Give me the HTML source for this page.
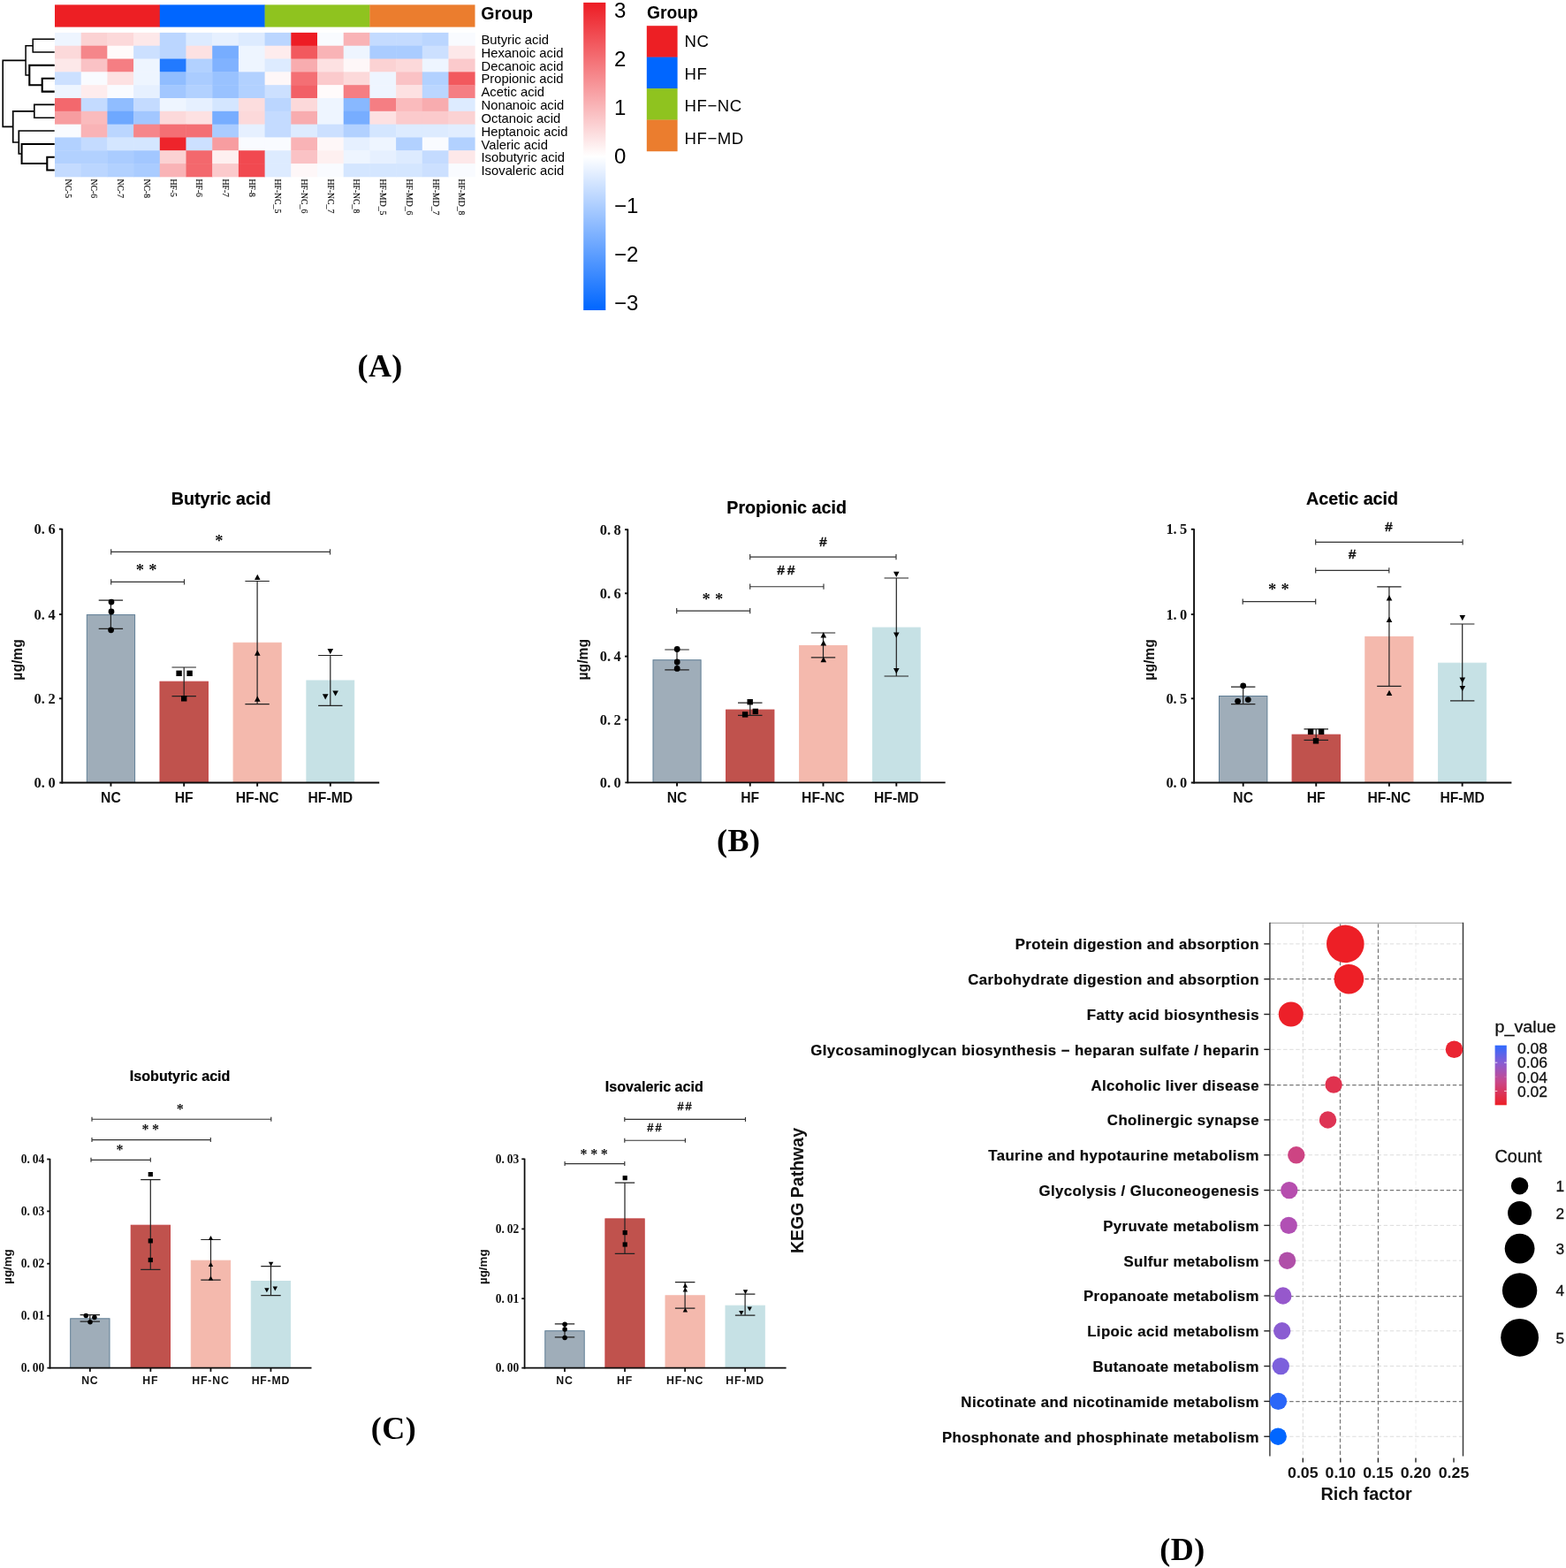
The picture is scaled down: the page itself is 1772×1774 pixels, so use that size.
<!DOCTYPE html>
<html lang="en">
<head>
<meta charset="utf-8">
<title>SCFA heatmap, bar charts and KEGG pathway enrichment</title>
<style>
html,body{margin:0;padding:0;background:#fff;}
body{width:1772px;height:1774px;overflow:hidden;font-family:"Liberation Sans",sans-serif;}
svg{display:block;}
text{white-space:pre;}
</style>
</head>
<body>
<svg role="img" aria-label="Figure with panels A to D" width="1772" height="1774" viewBox="0 0 1772 1774">
<rect x="0" y="0" width="1772" height="1774" fill="#ffffff"/>
<rect x="62.00" y="5.40" width="119.10" height="25.20" fill="#ed1f24"/>
<rect x="180.80" y="5.40" width="119.10" height="25.20" fill="#0066ff"/>
<rect x="299.60" y="5.40" width="119.10" height="25.20" fill="#8fc31f"/>
<rect x="418.40" y="5.40" width="119.10" height="25.20" fill="#eb7d2e"/>
<text x="544.30" y="21.90" font-family='"Liberation Sans", sans-serif' font-size="19.6" font-weight="bold" text-anchor="start" fill="#000" >Group</text>
<rect x="62.00" y="36.90" width="30.10" height="15.22" fill="#eef5ff"/>
<rect x="91.70" y="36.90" width="30.10" height="15.22" fill="#fbd2d3"/>
<rect x="121.40" y="36.90" width="30.10" height="15.22" fill="#fcd9da"/>
<rect x="151.10" y="36.90" width="30.10" height="15.22" fill="#fde8e9"/>
<rect x="180.80" y="36.90" width="30.10" height="15.22" fill="#bbd6ff"/>
<rect x="210.50" y="36.90" width="30.10" height="15.22" fill="#ddebff"/>
<rect x="240.20" y="36.90" width="30.10" height="15.22" fill="#e6f0ff"/>
<rect x="269.90" y="36.90" width="30.10" height="15.22" fill="#ddebff"/>
<rect x="299.60" y="36.90" width="30.10" height="15.22" fill="#bbd6ff"/>
<rect x="329.30" y="36.90" width="30.10" height="15.22" fill="#ed1c24"/>
<rect x="359.00" y="36.90" width="30.10" height="15.22" fill="#f9fbff"/>
<rect x="388.70" y="36.90" width="30.10" height="15.22" fill="#f9b3b6"/>
<rect x="418.40" y="36.90" width="30.10" height="15.22" fill="#c4dbff"/>
<rect x="448.10" y="36.90" width="30.10" height="15.22" fill="#c4dbff"/>
<rect x="477.80" y="36.90" width="30.10" height="15.22" fill="#bbd6ff"/>
<rect x="507.50" y="36.90" width="30.10" height="15.22" fill="#f9fbff"/>
<text x="544.50" y="50.01" font-family='"Liberation Sans", sans-serif' font-size="14.8" font-weight="normal" text-anchor="start" fill="#000" >Butyric acid</text>
<rect x="62.00" y="51.72" width="30.10" height="15.22" fill="#fcd9da"/>
<rect x="91.70" y="51.72" width="30.10" height="15.22" fill="#f5868a"/>
<rect x="121.40" y="51.72" width="30.10" height="15.22" fill="#fffbfb"/>
<rect x="151.10" y="51.72" width="30.10" height="15.22" fill="#cce0ff"/>
<rect x="180.80" y="51.72" width="30.10" height="15.22" fill="#bbd6ff"/>
<rect x="210.50" y="51.72" width="30.10" height="15.22" fill="#fde1e2"/>
<rect x="240.20" y="51.72" width="30.10" height="15.22" fill="#77adff"/>
<rect x="269.90" y="51.72" width="30.10" height="15.22" fill="#eef5ff"/>
<rect x="299.60" y="51.72" width="30.10" height="15.22" fill="#feeced"/>
<rect x="329.30" y="51.72" width="30.10" height="15.22" fill="#f2595e"/>
<rect x="359.00" y="51.72" width="30.10" height="15.22" fill="#f9b3b6"/>
<rect x="388.70" y="51.72" width="30.10" height="15.22" fill="#eef5ff"/>
<rect x="418.40" y="51.72" width="30.10" height="15.22" fill="#aaccff"/>
<rect x="448.10" y="51.72" width="30.10" height="15.22" fill="#aaccff"/>
<rect x="477.80" y="51.72" width="30.10" height="15.22" fill="#cce0ff"/>
<rect x="507.50" y="51.72" width="30.10" height="15.22" fill="#fde8e9"/>
<text x="544.50" y="64.83" font-family='"Liberation Sans", sans-serif' font-size="14.8" font-weight="normal" text-anchor="start" fill="#000" >Hexanoic acid</text>
<rect x="62.00" y="66.54" width="30.10" height="15.22" fill="#fde8e9"/>
<rect x="91.70" y="66.54" width="30.10" height="15.22" fill="#fac2c5"/>
<rect x="121.40" y="66.54" width="30.10" height="15.22" fill="#f57e83"/>
<rect x="151.10" y="66.54" width="30.10" height="15.22" fill="#eef5ff"/>
<rect x="180.80" y="66.54" width="30.10" height="15.22" fill="#227aff"/>
<rect x="210.50" y="66.54" width="30.10" height="15.22" fill="#b2d1ff"/>
<rect x="240.20" y="66.54" width="30.10" height="15.22" fill="#80b2ff"/>
<rect x="269.90" y="66.54" width="30.10" height="15.22" fill="#eef5ff"/>
<rect x="299.60" y="66.54" width="30.10" height="15.22" fill="#ddebff"/>
<rect x="329.30" y="66.54" width="30.10" height="15.22" fill="#f8acaf"/>
<rect x="359.00" y="66.54" width="30.10" height="15.22" fill="#fde1e2"/>
<rect x="388.70" y="66.54" width="30.10" height="15.22" fill="#fef7f8"/>
<rect x="418.40" y="66.54" width="30.10" height="15.22" fill="#fbd2d3"/>
<rect x="448.10" y="66.54" width="30.10" height="15.22" fill="#fcd9da"/>
<rect x="477.80" y="66.54" width="30.10" height="15.22" fill="#eef5ff"/>
<rect x="507.50" y="66.54" width="30.10" height="15.22" fill="#fbcacc"/>
<text x="544.50" y="79.65" font-family='"Liberation Sans", sans-serif' font-size="14.8" font-weight="normal" text-anchor="start" fill="#000" >Decanoic acid</text>
<rect x="62.00" y="81.35" width="30.10" height="15.22" fill="#cce0ff"/>
<rect x="91.70" y="81.35" width="30.10" height="15.22" fill="#f9fbff"/>
<rect x="121.40" y="81.35" width="30.10" height="15.22" fill="#fde1e2"/>
<rect x="151.10" y="81.35" width="30.10" height="15.22" fill="#eef5ff"/>
<rect x="180.80" y="81.35" width="30.10" height="15.22" fill="#90bdff"/>
<rect x="210.50" y="81.35" width="30.10" height="15.22" fill="#aaccff"/>
<rect x="240.20" y="81.35" width="30.10" height="15.22" fill="#99c2ff"/>
<rect x="269.90" y="81.35" width="30.10" height="15.22" fill="#b2d1ff"/>
<rect x="299.60" y="81.35" width="30.10" height="15.22" fill="#fef7f8"/>
<rect x="329.30" y="81.35" width="30.10" height="15.22" fill="#f46f74"/>
<rect x="359.00" y="81.35" width="30.10" height="15.22" fill="#fbcacc"/>
<rect x="388.70" y="81.35" width="30.10" height="15.22" fill="#fcd9da"/>
<rect x="418.40" y="81.35" width="30.10" height="15.22" fill="#eef5ff"/>
<rect x="448.10" y="81.35" width="30.10" height="15.22" fill="#fac2c5"/>
<rect x="477.80" y="81.35" width="30.10" height="15.22" fill="#b2d1ff"/>
<rect x="507.50" y="81.35" width="30.10" height="15.22" fill="#f2595e"/>
<text x="544.50" y="94.46" font-family='"Liberation Sans", sans-serif' font-size="14.8" font-weight="normal" text-anchor="start" fill="#000" >Propionic acid</text>
<rect x="62.00" y="96.17" width="30.10" height="15.22" fill="#eef5ff"/>
<rect x="91.70" y="96.17" width="30.10" height="15.22" fill="#feeced"/>
<rect x="121.40" y="96.17" width="30.10" height="15.22" fill="#f9fbff"/>
<rect x="151.10" y="96.17" width="30.10" height="15.22" fill="#e6f0ff"/>
<rect x="180.80" y="96.17" width="30.10" height="15.22" fill="#a2c7ff"/>
<rect x="210.50" y="96.17" width="30.10" height="15.22" fill="#b2d1ff"/>
<rect x="240.20" y="96.17" width="30.10" height="15.22" fill="#99c2ff"/>
<rect x="269.90" y="96.17" width="30.10" height="15.22" fill="#b2d1ff"/>
<rect x="299.60" y="96.17" width="30.10" height="15.22" fill="#cce0ff"/>
<rect x="329.30" y="96.17" width="30.10" height="15.22" fill="#f26066"/>
<rect x="359.00" y="96.17" width="30.10" height="15.22" fill="#fffbfb"/>
<rect x="388.70" y="96.17" width="30.10" height="15.22" fill="#f57e83"/>
<rect x="418.40" y="96.17" width="30.10" height="15.22" fill="#eef5ff"/>
<rect x="448.10" y="96.17" width="30.10" height="15.22" fill="#fde1e2"/>
<rect x="477.80" y="96.17" width="30.10" height="15.22" fill="#bbd6ff"/>
<rect x="507.50" y="96.17" width="30.10" height="15.22" fill="#f57e83"/>
<text x="544.50" y="109.28" font-family='"Liberation Sans", sans-serif' font-size="14.8" font-weight="normal" text-anchor="start" fill="#000" >Acetic acid</text>
<rect x="62.00" y="110.99" width="30.10" height="15.22" fill="#f3686d"/>
<rect x="91.70" y="110.99" width="30.10" height="15.22" fill="#c4dbff"/>
<rect x="121.40" y="110.99" width="30.10" height="15.22" fill="#90bdff"/>
<rect x="151.10" y="110.99" width="30.10" height="15.22" fill="#c4dbff"/>
<rect x="180.80" y="110.99" width="30.10" height="15.22" fill="#eef5ff"/>
<rect x="210.50" y="110.99" width="30.10" height="15.22" fill="#e6f0ff"/>
<rect x="240.20" y="110.99" width="30.10" height="15.22" fill="#d4e6ff"/>
<rect x="269.90" y="110.99" width="30.10" height="15.22" fill="#fcddde"/>
<rect x="299.60" y="110.99" width="30.10" height="15.22" fill="#bbd6ff"/>
<rect x="329.30" y="110.99" width="30.10" height="15.22" fill="#fcd9da"/>
<rect x="359.00" y="110.99" width="30.10" height="15.22" fill="#eef5ff"/>
<rect x="388.70" y="110.99" width="30.10" height="15.22" fill="#88b8ff"/>
<rect x="418.40" y="110.99" width="30.10" height="15.22" fill="#f57e83"/>
<rect x="448.10" y="110.99" width="30.10" height="15.22" fill="#fabbbd"/>
<rect x="477.80" y="110.99" width="30.10" height="15.22" fill="#f8acaf"/>
<rect x="507.50" y="110.99" width="30.10" height="15.22" fill="#ddebff"/>
<text x="544.50" y="124.10" font-family='"Liberation Sans", sans-serif' font-size="14.8" font-weight="normal" text-anchor="start" fill="#000" >Nonanoic acid</text>
<rect x="62.00" y="125.81" width="30.10" height="15.22" fill="#f79da0"/>
<rect x="91.70" y="125.81" width="30.10" height="15.22" fill="#fabbbd"/>
<rect x="121.40" y="125.81" width="30.10" height="15.22" fill="#6ea8ff"/>
<rect x="151.10" y="125.81" width="30.10" height="15.22" fill="#a2c7ff"/>
<rect x="180.80" y="125.81" width="30.10" height="15.22" fill="#fcd9da"/>
<rect x="210.50" y="125.81" width="30.10" height="15.22" fill="#fde1e2"/>
<rect x="240.20" y="125.81" width="30.10" height="15.22" fill="#77adff"/>
<rect x="269.90" y="125.81" width="30.10" height="15.22" fill="#fcd9da"/>
<rect x="299.60" y="125.81" width="30.10" height="15.22" fill="#c4dbff"/>
<rect x="329.30" y="125.81" width="30.10" height="15.22" fill="#f8acaf"/>
<rect x="359.00" y="125.81" width="30.10" height="15.22" fill="#eef5ff"/>
<rect x="388.70" y="125.81" width="30.10" height="15.22" fill="#77adff"/>
<rect x="418.40" y="125.81" width="30.10" height="15.22" fill="#fde1e2"/>
<rect x="448.10" y="125.81" width="30.10" height="15.22" fill="#fbcacc"/>
<rect x="477.80" y="125.81" width="30.10" height="15.22" fill="#fbcacc"/>
<rect x="507.50" y="125.81" width="30.10" height="15.22" fill="#fbd2d3"/>
<text x="544.50" y="138.92" font-family='"Liberation Sans", sans-serif' font-size="14.8" font-weight="normal" text-anchor="start" fill="#000" >Octanoic acid</text>
<rect x="62.00" y="140.63" width="30.10" height="15.22" fill="#f9fbff"/>
<rect x="91.70" y="140.63" width="30.10" height="15.22" fill="#f9b3b6"/>
<rect x="121.40" y="140.63" width="30.10" height="15.22" fill="#bbd6ff"/>
<rect x="151.10" y="140.63" width="30.10" height="15.22" fill="#f5868a"/>
<rect x="180.80" y="140.63" width="30.10" height="15.22" fill="#f46f74"/>
<rect x="210.50" y="140.63" width="30.10" height="15.22" fill="#f46f74"/>
<rect x="240.20" y="140.63" width="30.10" height="15.22" fill="#aaccff"/>
<rect x="269.90" y="140.63" width="30.10" height="15.22" fill="#e6f0ff"/>
<rect x="299.60" y="140.63" width="30.10" height="15.22" fill="#c4dbff"/>
<rect x="329.30" y="140.63" width="30.10" height="15.22" fill="#ddebff"/>
<rect x="359.00" y="140.63" width="30.10" height="15.22" fill="#cce0ff"/>
<rect x="388.70" y="140.63" width="30.10" height="15.22" fill="#b2d1ff"/>
<rect x="418.40" y="140.63" width="30.10" height="15.22" fill="#d4e6ff"/>
<rect x="448.10" y="140.63" width="30.10" height="15.22" fill="#ddebff"/>
<rect x="477.80" y="140.63" width="30.10" height="15.22" fill="#ddebff"/>
<rect x="507.50" y="140.63" width="30.10" height="15.22" fill="#e1edff"/>
<text x="544.50" y="153.74" font-family='"Liberation Sans", sans-serif' font-size="14.8" font-weight="normal" text-anchor="start" fill="#000" >Heptanoic acid</text>
<rect x="62.00" y="155.45" width="30.10" height="15.22" fill="#b2d1ff"/>
<rect x="91.70" y="155.45" width="30.10" height="15.22" fill="#c4dbff"/>
<rect x="121.40" y="155.45" width="30.10" height="15.22" fill="#d4e6ff"/>
<rect x="151.10" y="155.45" width="30.10" height="15.22" fill="#d4e6ff"/>
<rect x="180.80" y="155.45" width="30.10" height="15.22" fill="#ee242b"/>
<rect x="210.50" y="155.45" width="30.10" height="15.22" fill="#cce0ff"/>
<rect x="240.20" y="155.45" width="30.10" height="15.22" fill="#f79da0"/>
<rect x="269.90" y="155.45" width="30.10" height="15.22" fill="#f9fbff"/>
<rect x="299.60" y="155.45" width="30.10" height="15.22" fill="#f9fbff"/>
<rect x="329.30" y="155.45" width="30.10" height="15.22" fill="#f9b3b6"/>
<rect x="359.00" y="155.45" width="30.10" height="15.22" fill="#fef7f8"/>
<rect x="388.70" y="155.45" width="30.10" height="15.22" fill="#e6f0ff"/>
<rect x="418.40" y="155.45" width="30.10" height="15.22" fill="#eef5ff"/>
<rect x="448.10" y="155.45" width="30.10" height="15.22" fill="#b2d1ff"/>
<rect x="477.80" y="155.45" width="30.10" height="15.22" fill="#f9fbff"/>
<rect x="507.50" y="155.45" width="30.10" height="15.22" fill="#b2d1ff"/>
<text x="544.50" y="168.55" font-family='"Liberation Sans", sans-serif' font-size="14.8" font-weight="normal" text-anchor="start" fill="#000" >Valeric acid</text>
<rect x="62.00" y="170.26" width="30.10" height="15.22" fill="#b2d1ff"/>
<rect x="91.70" y="170.26" width="30.10" height="15.22" fill="#b2d1ff"/>
<rect x="121.40" y="170.26" width="30.10" height="15.22" fill="#aaccff"/>
<rect x="151.10" y="170.26" width="30.10" height="15.22" fill="#a2c7ff"/>
<rect x="180.80" y="170.26" width="30.10" height="15.22" fill="#fbd2d3"/>
<rect x="210.50" y="170.26" width="30.10" height="15.22" fill="#f3686d"/>
<rect x="240.20" y="170.26" width="30.10" height="15.22" fill="#fef0f0"/>
<rect x="269.90" y="170.26" width="30.10" height="15.22" fill="#f14950"/>
<rect x="299.60" y="170.26" width="30.10" height="15.22" fill="#ddebff"/>
<rect x="329.30" y="170.26" width="30.10" height="15.22" fill="#fac2c5"/>
<rect x="359.00" y="170.26" width="30.10" height="15.22" fill="#fef0f0"/>
<rect x="388.70" y="170.26" width="30.10" height="15.22" fill="#eef5ff"/>
<rect x="418.40" y="170.26" width="30.10" height="15.22" fill="#e6f0ff"/>
<rect x="448.10" y="170.26" width="30.10" height="15.22" fill="#ddebff"/>
<rect x="477.80" y="170.26" width="30.10" height="15.22" fill="#c4dbff"/>
<rect x="507.50" y="170.26" width="30.10" height="15.22" fill="#fde8e9"/>
<text x="544.50" y="183.37" font-family='"Liberation Sans", sans-serif' font-size="14.8" font-weight="normal" text-anchor="start" fill="#000" >Isobutyric acid</text>
<rect x="62.00" y="185.08" width="30.10" height="15.22" fill="#c4dbff"/>
<rect x="91.70" y="185.08" width="30.10" height="15.22" fill="#bbd6ff"/>
<rect x="121.40" y="185.08" width="30.10" height="15.22" fill="#b2d1ff"/>
<rect x="151.10" y="185.08" width="30.10" height="15.22" fill="#aaccff"/>
<rect x="180.80" y="185.08" width="30.10" height="15.22" fill="#f9b3b6"/>
<rect x="210.50" y="185.08" width="30.10" height="15.22" fill="#f3686d"/>
<rect x="240.20" y="185.08" width="30.10" height="15.22" fill="#fbcacc"/>
<rect x="269.90" y="185.08" width="30.10" height="15.22" fill="#f14950"/>
<rect x="299.60" y="185.08" width="30.10" height="15.22" fill="#ddebff"/>
<rect x="329.30" y="185.08" width="30.10" height="15.22" fill="#fef7f8"/>
<rect x="359.00" y="185.08" width="30.10" height="15.22" fill="#f9fbff"/>
<rect x="388.70" y="185.08" width="30.10" height="15.22" fill="#d4e6ff"/>
<rect x="418.40" y="185.08" width="30.10" height="15.22" fill="#d4e6ff"/>
<rect x="448.10" y="185.08" width="30.10" height="15.22" fill="#d4e6ff"/>
<rect x="477.80" y="185.08" width="30.10" height="15.22" fill="#cce0ff"/>
<rect x="507.50" y="185.08" width="30.10" height="15.22" fill="#f9fbff"/>
<text x="544.50" y="198.19" font-family='"Liberation Sans", sans-serif' font-size="14.8" font-weight="normal" text-anchor="start" fill="#000" >Isovaleric acid</text>
<text transform="translate(73.6,202.5) rotate(90)" font-family='"Liberation Serif", serif' font-size="9.7" fill="#111" stroke="#111" stroke-width="0.15">NC-5</text>
<text transform="translate(103.4,202.5) rotate(90)" font-family='"Liberation Serif", serif' font-size="9.7" fill="#111" stroke="#111" stroke-width="0.15">NC-6</text>
<text transform="translate(133.1,202.5) rotate(90)" font-family='"Liberation Serif", serif' font-size="9.7" fill="#111" stroke="#111" stroke-width="0.15">NC-7</text>
<text transform="translate(162.8,202.5) rotate(90)" font-family='"Liberation Serif", serif' font-size="9.7" fill="#111" stroke="#111" stroke-width="0.15">NC-8</text>
<text transform="translate(192.5,202.5) rotate(90)" font-family='"Liberation Serif", serif' font-size="9.7" fill="#111" stroke="#111" stroke-width="0.15">HF-5</text>
<text transform="translate(222.2,202.5) rotate(90)" font-family='"Liberation Serif", serif' font-size="9.7" fill="#111" stroke="#111" stroke-width="0.15">HF-6</text>
<text transform="translate(251.9,202.5) rotate(90)" font-family='"Liberation Serif", serif' font-size="9.7" fill="#111" stroke="#111" stroke-width="0.15">HF-7</text>
<text transform="translate(281.6,202.5) rotate(90)" font-family='"Liberation Serif", serif' font-size="9.7" fill="#111" stroke="#111" stroke-width="0.15">HF-8</text>
<text transform="translate(311.3,202.5) rotate(90)" font-family='"Liberation Serif", serif' font-size="9.7" fill="#111" stroke="#111" stroke-width="0.15">HF-NC_5</text>
<text transform="translate(341.0,202.5) rotate(90)" font-family='"Liberation Serif", serif' font-size="9.7" fill="#111" stroke="#111" stroke-width="0.15">HF-NC_6</text>
<text transform="translate(370.7,202.5) rotate(90)" font-family='"Liberation Serif", serif' font-size="9.7" fill="#111" stroke="#111" stroke-width="0.15">HF-NC_7</text>
<text transform="translate(400.4,202.5) rotate(90)" font-family='"Liberation Serif", serif' font-size="9.7" fill="#111" stroke="#111" stroke-width="0.15">HF-NC_8</text>
<text transform="translate(430.1,202.5) rotate(90)" font-family='"Liberation Serif", serif' font-size="9.7" fill="#111" stroke="#111" stroke-width="0.15">HF-MD_5</text>
<text transform="translate(459.8,202.5) rotate(90)" font-family='"Liberation Serif", serif' font-size="9.7" fill="#111" stroke="#111" stroke-width="0.15">HF-MD_6</text>
<text transform="translate(489.5,202.5) rotate(90)" font-family='"Liberation Serif", serif' font-size="9.7" fill="#111" stroke="#111" stroke-width="0.15">HF-MD_7</text>
<text transform="translate(519.1,202.5) rotate(90)" font-family='"Liberation Serif", serif' font-size="9.7" fill="#111" stroke="#111" stroke-width="0.15">HF-MD_8</text>
<path d="M61.7 44.3L37.2 44.3L37.2 59.1L61.7 59.1" stroke="#000" stroke-width="1.5" fill="none" stroke-linejoin="miter"/>
<path d="M61.7 88.8L47.7 88.8L47.7 103.6L61.7 103.6" stroke="#000" stroke-width="2.1" fill="none" stroke-linejoin="miter"/>
<path d="M61.7 73.9L33.3 73.9L33.3 96.2L47.7 96.2" stroke="#000" stroke-width="2.1" fill="none" stroke-linejoin="miter"/>
<path d="M37.2 51.7L29.1 51.7L29.1 85.1L33.3 85.1" stroke="#000" stroke-width="1.5" fill="none" stroke-linejoin="miter"/>
<path d="M61.7 118.4L38.8 118.4L38.8 133.2L61.7 133.2" stroke="#000" stroke-width="1.6" fill="none" stroke-linejoin="miter"/>
<path d="M61.7 177.7L53.3 177.7L53.3 192.5L61.7 192.5" stroke="#000" stroke-width="2.1" fill="none" stroke-linejoin="miter"/>
<path d="M61.7 162.9L24.6 162.9L24.6 185.1L53.3 185.1" stroke="#000" stroke-width="2.0" fill="none" stroke-linejoin="miter"/>
<path d="M61.7 148.0L21.3 148.0L21.3 174.0L24.6 174.0" stroke="#000" stroke-width="1.7" fill="none" stroke-linejoin="miter"/>
<path d="M38.8 125.8L14.7 125.8L14.7 161.0L21.3 161.0" stroke="#000" stroke-width="1.7" fill="none" stroke-linejoin="miter"/>
<path d="M29.1 68.4L3.2 68.4L3.2 143.4L14.7 143.4" stroke="#000" stroke-width="1.6" fill="none" stroke-linejoin="miter"/>
<defs><linearGradient id="hg" x1="0" y1="0" x2="0" y2="1"><stop offset="0" stop-color="#ed1c24"/><stop offset="0.5" stop-color="#ffffff"/><stop offset="1" stop-color="#0066ff"/></linearGradient></defs>
<rect x="660.20" y="2.90" width="25.10" height="348.10" fill="url(#hg)"/>
<text transform="translate(695.00,20.40) scale(1.0000,1)" font-family='"Liberation Sans", sans-serif' font-size="24.0" font-weight="normal" text-anchor="start" fill="#000" >3</text>
<text transform="translate(695.00,75.43) scale(1.0000,1)" font-family='"Liberation Sans", sans-serif' font-size="24.0" font-weight="normal" text-anchor="start" fill="#000" >2</text>
<text transform="translate(695.00,130.46) scale(1.0000,1)" font-family='"Liberation Sans", sans-serif' font-size="24.0" font-weight="normal" text-anchor="start" fill="#000" >1</text>
<text transform="translate(695.00,185.49) scale(1.0000,1)" font-family='"Liberation Sans", sans-serif' font-size="24.0" font-weight="normal" text-anchor="start" fill="#000" >0</text>
<text transform="translate(695.00,240.52) scale(1.0000,1)" font-family='"Liberation Sans", sans-serif' font-size="24.0" font-weight="normal" text-anchor="start" fill="#000" >−1</text>
<text transform="translate(695.00,295.55) scale(1.0000,1)" font-family='"Liberation Sans", sans-serif' font-size="24.0" font-weight="normal" text-anchor="start" fill="#000" >−2</text>
<text transform="translate(695.00,350.58) scale(1.0000,1)" font-family='"Liberation Sans", sans-serif' font-size="24.0" font-weight="normal" text-anchor="start" fill="#000" >−3</text>
<text x="732.00" y="20.80" font-family='"Liberation Sans", sans-serif' font-size="19.3" font-weight="bold" text-anchor="start" fill="#000" >Group</text>
<rect x="731.80" y="29.20" width="34.80" height="35.70" fill="#ed1f24"/>
<text x="774.50" y="52.80" font-family='"Liberation Sans", sans-serif' font-size="18.6" font-weight="normal" text-anchor="start" fill="#000" letter-spacing="0.55">NC</text>
<rect x="731.80" y="64.65" width="34.80" height="35.70" fill="#0066ff"/>
<text x="774.50" y="89.55" font-family='"Liberation Sans", sans-serif' font-size="18.6" font-weight="normal" text-anchor="start" fill="#000" letter-spacing="0.55">HF</text>
<rect x="731.80" y="100.10" width="34.80" height="35.70" fill="#8fc31f"/>
<text x="774.50" y="126.30" font-family='"Liberation Sans", sans-serif' font-size="18.6" font-weight="normal" text-anchor="start" fill="#000" letter-spacing="0.55">HF−NC</text>
<rect x="731.80" y="135.55" width="34.80" height="35.70" fill="#eb7d2e"/>
<text x="774.50" y="163.05" font-family='"Liberation Sans", sans-serif' font-size="18.6" font-weight="normal" text-anchor="start" fill="#000" letter-spacing="0.55">HF−MD</text>
<text x="430.10" y="426.40" font-family='"Liberation Serif", serif' font-size="36" font-weight="bold" text-anchor="middle" fill="#000" letter-spacing="0.4">(A)</text>
<rect x="98.30" y="695.60" width="54.30" height="189.90" fill="#9fadb9" stroke="#5f7e95" stroke-width="1"/>
<rect x="181.00" y="771.20" width="54.40" height="114.30" fill="#c0524d" stroke="#c44545" stroke-width="1"/>
<rect x="264.10" y="727.30" width="54.10" height="158.20" fill="#f4b9ad" stroke="#f4b9ad" stroke-width="1"/>
<rect x="346.90" y="770.00" width="53.80" height="115.50" fill="#c6e1e5" stroke="#c6e1e5" stroke-width="1"/>
<line x1="70.30" y1="598.00" x2="70.30" y2="886.45" stroke="#0d0d0d" stroke-width="1.9" />
<line x1="67.30" y1="885.50" x2="429.20" y2="885.50" stroke="#0d0d0d" stroke-width="1.9" />
<line x1="67.00" y1="598.60" x2="70.30" y2="598.60" stroke="#0d0d0d" stroke-width="1.9" />
<text x="42.6 48.8 58.5" y="604.1" font-family='"Liberation Serif", serif' font-size="16.43" font-weight="bold" text-anchor="middle" fill="#111">0.6</text>
<line x1="67.00" y1="695.10" x2="70.30" y2="695.10" stroke="#0d0d0d" stroke-width="1.9" />
<text x="42.6 48.8 58.5" y="700.6" font-family='"Liberation Serif", serif' font-size="16.43" font-weight="bold" text-anchor="middle" fill="#111">0.4</text>
<line x1="67.00" y1="790.30" x2="70.30" y2="790.30" stroke="#0d0d0d" stroke-width="1.9" />
<text x="42.6 48.8 58.5" y="795.8" font-family='"Liberation Serif", serif' font-size="16.43" font-weight="bold" text-anchor="middle" fill="#111">0.2</text>
<text x="42.6 48.8 58.5" y="891.0" font-family='"Liberation Serif", serif' font-size="16.43" font-weight="bold" text-anchor="middle" fill="#111">0.0</text>
<line x1="125.45" y1="885.50" x2="125.45" y2="889.70" stroke="#0d0d0d" stroke-width="1.9" />
<text x="125.45" y="907.90" font-family='"Liberation Sans", sans-serif' font-size="15.7" font-weight="bold" text-anchor="middle" fill="#111" >NC</text>
<line x1="208.20" y1="885.50" x2="208.20" y2="889.70" stroke="#0d0d0d" stroke-width="1.9" />
<text x="208.20" y="907.90" font-family='"Liberation Sans", sans-serif' font-size="15.7" font-weight="bold" text-anchor="middle" fill="#111" >HF</text>
<line x1="291.15" y1="885.50" x2="291.15" y2="889.70" stroke="#0d0d0d" stroke-width="1.9" />
<text x="291.15" y="907.90" font-family='"Liberation Sans", sans-serif' font-size="15.7" font-weight="bold" text-anchor="middle" fill="#111" >HF-NC</text>
<line x1="373.80" y1="885.50" x2="373.80" y2="889.70" stroke="#0d0d0d" stroke-width="1.9" />
<text x="373.80" y="907.90" font-family='"Liberation Sans", sans-serif' font-size="15.7" font-weight="bold" text-anchor="middle" fill="#111" >HF-MD</text>
<path d="M125.4 679.1L125.4 711.3M111.7 679.1L139.1 679.1M111.7 711.3L139.1 711.3" stroke="#222" stroke-width="1.2" fill="none"/>
<path d="M208.2 755.0L208.2 787.7M194.5 755.0L221.9 755.0M194.5 787.7L221.9 787.7" stroke="#222" stroke-width="1.2" fill="none"/>
<path d="M291.1 657.5L291.1 796.6M277.4 657.5L304.8 657.5M277.4 796.6L304.8 796.6" stroke="#222" stroke-width="1.2" fill="none"/>
<path d="M373.8 741.5L373.8 798.4M360.1 741.5L387.5 741.5M360.1 798.4L387.5 798.4" stroke="#222" stroke-width="1.2" fill="none"/>
<circle cx="126.0" cy="681.1" r="3.39" fill="#000"/>
<circle cx="126.0" cy="692.0" r="3.39" fill="#000"/>
<circle cx="125.6" cy="712.8" r="3.39" fill="#000"/>
<rect x="199.4" y="758.6" width="6.4" height="6.4" fill="#000"/>
<rect x="211.4" y="758.6" width="6.4" height="6.4" fill="#000"/>
<rect x="205.0" y="787.1" width="6.4" height="6.4" fill="#000"/>
<path d="M288.0 655.9L294.6 655.9L291.3 649.7Z" fill="#000"/>
<path d="M288.0 741.7L294.6 741.7L291.3 735.5Z" fill="#000"/>
<path d="M288.0 793.8L294.6 793.8L291.3 787.6Z" fill="#000"/>
<path d="M370.5 734.0L377.1 734.0L373.8 740.2Z" fill="#000"/>
<path d="M364.9 785.3L371.5 785.3L368.2 791.5Z" fill="#000"/>
<path d="M376.3 781.4L382.9 781.4L379.6 787.6Z" fill="#000"/>
<path d="M125.7 624.4L373.5 624.4M125.7 621.3L125.7 627.5M373.5 621.3L373.5 627.5" stroke="#333" stroke-width="1.15" fill="none"/>
<text x="247.8" y="617.9" font-family='"Liberation Serif", serif' font-size="18.5" font-weight="bold" text-anchor="middle" fill="#111">*</text>
<path d="M125.7 658.3L208.5 658.3M125.7 655.2L125.7 661.4M208.5 655.2L208.5 661.4" stroke="#333" stroke-width="1.15" fill="none"/>
<text x="158.3 172.8" y="650.9" font-family='"Liberation Serif", serif' font-size="18.5" font-weight="bold" text-anchor="middle" fill="#111">**</text>
<text x="250.10" y="571.10" font-family='"Liberation Sans", sans-serif' font-size="19.7" font-weight="bold" text-anchor="middle" fill="#000" stroke="#000" stroke-width="0.2">Butyric acid</text>
<text transform="translate(25.3,746.4) rotate(-90)" font-family='"Liberation Sans", sans-serif' font-size="15.7" font-weight="bold" text-anchor="middle" fill="#111">µg/mg</text>
<rect x="739.00" y="746.70" width="54.10" height="138.70" fill="#9fadb9" stroke="#5f7e95" stroke-width="1"/>
<rect x="821.60" y="803.10" width="54.30" height="82.30" fill="#c0524d" stroke="#c44545" stroke-width="1"/>
<rect x="904.60" y="730.40" width="53.80" height="155.00" fill="#f4b9ad" stroke="#f4b9ad" stroke-width="1"/>
<rect x="987.40" y="710.10" width="53.80" height="175.30" fill="#c6e1e5" stroke="#c6e1e5" stroke-width="1"/>
<line x1="710.30" y1="598.60" x2="710.30" y2="886.35" stroke="#0d0d0d" stroke-width="1.9" />
<line x1="707.30" y1="885.40" x2="1069.70" y2="885.40" stroke="#0d0d0d" stroke-width="1.9" />
<line x1="707.00" y1="599.20" x2="710.30" y2="599.20" stroke="#0d0d0d" stroke-width="1.9" />
<text x="682.9 689.0 698.7" y="604.7" font-family='"Liberation Serif", serif' font-size="16.43" font-weight="bold" text-anchor="middle" fill="#111">0.8</text>
<line x1="707.00" y1="671.30" x2="710.30" y2="671.30" stroke="#0d0d0d" stroke-width="1.9" />
<text x="682.9 689.0 698.7" y="676.8" font-family='"Liberation Serif", serif' font-size="16.43" font-weight="bold" text-anchor="middle" fill="#111">0.6</text>
<line x1="707.00" y1="742.60" x2="710.30" y2="742.60" stroke="#0d0d0d" stroke-width="1.9" />
<text x="682.9 689.0 698.7" y="748.1" font-family='"Liberation Serif", serif' font-size="16.43" font-weight="bold" text-anchor="middle" fill="#111">0.4</text>
<line x1="707.00" y1="814.30" x2="710.30" y2="814.30" stroke="#0d0d0d" stroke-width="1.9" />
<text x="682.9 689.0 698.7" y="819.8" font-family='"Liberation Serif", serif' font-size="16.43" font-weight="bold" text-anchor="middle" fill="#111">0.2</text>
<text x="682.9 689.0 698.7" y="890.9" font-family='"Liberation Serif", serif' font-size="16.43" font-weight="bold" text-anchor="middle" fill="#111">0.0</text>
<line x1="766.05" y1="885.40" x2="766.05" y2="889.60" stroke="#0d0d0d" stroke-width="1.9" />
<text x="766.05" y="907.70" font-family='"Liberation Sans", sans-serif' font-size="15.7" font-weight="bold" text-anchor="middle" fill="#111" >NC</text>
<line x1="848.75" y1="885.40" x2="848.75" y2="889.60" stroke="#0d0d0d" stroke-width="1.9" />
<text x="848.75" y="907.70" font-family='"Liberation Sans", sans-serif' font-size="15.7" font-weight="bold" text-anchor="middle" fill="#111" >HF</text>
<line x1="931.50" y1="885.40" x2="931.50" y2="889.60" stroke="#0d0d0d" stroke-width="1.9" />
<text x="931.50" y="907.70" font-family='"Liberation Sans", sans-serif' font-size="15.7" font-weight="bold" text-anchor="middle" fill="#111" >HF-NC</text>
<line x1="1014.30" y1="885.40" x2="1014.30" y2="889.60" stroke="#0d0d0d" stroke-width="1.9" />
<text x="1014.30" y="907.70" font-family='"Liberation Sans", sans-serif' font-size="15.7" font-weight="bold" text-anchor="middle" fill="#111" >HF-MD</text>
<path d="M766.0 735.0L766.0 757.9M752.3 735.0L779.8 735.0M752.3 757.9L779.8 757.9" stroke="#222" stroke-width="1.2" fill="none"/>
<path d="M848.8 795.2L848.8 809.4M835.0 795.2L862.5 795.2M835.0 809.4L862.5 809.4" stroke="#222" stroke-width="1.2" fill="none"/>
<path d="M931.5 716.0L931.5 743.9M917.8 716.0L945.2 716.0M917.8 743.9L945.2 743.9" stroke="#222" stroke-width="1.2" fill="none"/>
<path d="M1014.3 654.0L1014.3 765.0M1000.6 654.0L1028.0 654.0M1000.6 765.0L1028.0 765.0" stroke="#222" stroke-width="1.2" fill="none"/>
<circle cx="766.2" cy="734.5" r="3.39" fill="#000"/>
<circle cx="766.2" cy="749.0" r="3.39" fill="#000"/>
<circle cx="766.2" cy="756.4" r="3.39" fill="#000"/>
<rect x="845.5" y="791.0" width="6.4" height="6.4" fill="#000"/>
<rect x="851.6" y="801.7" width="6.4" height="6.4" fill="#000"/>
<rect x="839.9" y="805.2" width="6.4" height="6.4" fill="#000"/>
<path d="M928.5 721.5L935.1 721.5L931.8 715.3Z" fill="#000"/>
<path d="M928.5 730.4L935.1 730.4L931.8 724.2Z" fill="#000"/>
<path d="M928.5 749.2L935.1 749.2L931.8 743.0Z" fill="#000"/>
<path d="M1011.0 646.7L1017.6 646.7L1014.3 652.9Z" fill="#000"/>
<path d="M1011.0 715.5L1017.6 715.5L1014.3 721.7Z" fill="#000"/>
<path d="M1011.0 756.1L1017.6 756.1L1014.3 762.3Z" fill="#000"/>
<path d="M848.7 630.1L1014.0 630.1M848.7 627.0L848.7 633.2M1014.0 627.0L1014.0 633.2" stroke="#333" stroke-width="1.15" fill="none"/>
<text x="931.3" y="617.8" font-family='"Liberation Mono", monospace' font-size="15.5" font-weight="bold" text-anchor="middle" fill="#111" stroke="#111" stroke-width="0.3">#</text>
<path d="M848.7 663.7L932.0 663.7M848.7 660.6L848.7 666.8M932.0 660.6L932.0 666.8" stroke="#333" stroke-width="1.15" fill="none"/>
<text x="883.7 895.1" y="650.0" font-family='"Liberation Mono", monospace' font-size="15.5" font-weight="bold" text-anchor="middle" fill="#111" stroke="#111" stroke-width="0.3">##</text>
<path d="M765.7 691.1L848.7 691.1M765.7 688.0L765.7 694.2M848.7 688.0L848.7 694.2" stroke="#333" stroke-width="1.15" fill="none"/>
<text x="799.0 813.5" y="683.8" font-family='"Liberation Serif", serif' font-size="18.5" font-weight="bold" text-anchor="middle" fill="#111">**</text>
<text x="890.10" y="580.60" font-family='"Liberation Sans", sans-serif' font-size="19.7" font-weight="bold" text-anchor="middle" fill="#000" stroke="#000" stroke-width="0.2">Propionic acid</text>
<text transform="translate(665.3,746.2) rotate(-90)" font-family='"Liberation Sans", sans-serif' font-size="15.7" font-weight="bold" text-anchor="middle" fill="#111">µg/mg</text>
<rect x="1379.50" y="787.50" width="54.40" height="98.00" fill="#9fadb9" stroke="#5f7e95" stroke-width="1"/>
<rect x="1462.10" y="831.20" width="54.30" height="54.30" fill="#c0524d" stroke="#c44545" stroke-width="1"/>
<rect x="1544.80" y="720.40" width="54.20" height="165.10" fill="#f4b9ad" stroke="#f4b9ad" stroke-width="1"/>
<rect x="1627.60" y="750.20" width="54.10" height="135.30" fill="#c6e1e5" stroke="#c6e1e5" stroke-width="1"/>
<line x1="1351.10" y1="598.20" x2="1351.10" y2="886.45" stroke="#0d0d0d" stroke-width="1.9" />
<line x1="1347.80" y1="885.50" x2="1710.40" y2="885.50" stroke="#0d0d0d" stroke-width="1.9" />
<line x1="1347.80" y1="598.80" x2="1351.10" y2="598.80" stroke="#0d0d0d" stroke-width="1.9" />
<text x="1323.5 1329.6 1339.2" y="604.3" font-family='"Liberation Serif", serif' font-size="16.43" font-weight="bold" text-anchor="middle" fill="#111">1.5</text>
<line x1="1347.80" y1="695.10" x2="1351.10" y2="695.10" stroke="#0d0d0d" stroke-width="1.9" />
<text x="1323.5 1329.6 1339.2" y="700.6" font-family='"Liberation Serif", serif' font-size="16.43" font-weight="bold" text-anchor="middle" fill="#111">1.0</text>
<line x1="1347.80" y1="790.30" x2="1351.10" y2="790.30" stroke="#0d0d0d" stroke-width="1.9" />
<text x="1323.5 1329.6 1339.2" y="795.8" font-family='"Liberation Serif", serif' font-size="16.43" font-weight="bold" text-anchor="middle" fill="#111">0.5</text>
<text x="1323.5 1329.6 1339.2" y="891.0" font-family='"Liberation Serif", serif' font-size="16.43" font-weight="bold" text-anchor="middle" fill="#111">0.0</text>
<line x1="1406.70" y1="885.50" x2="1406.70" y2="889.70" stroke="#0d0d0d" stroke-width="1.9" />
<text x="1406.70" y="907.90" font-family='"Liberation Sans", sans-serif' font-size="15.7" font-weight="bold" text-anchor="middle" fill="#111" >NC</text>
<line x1="1489.25" y1="885.50" x2="1489.25" y2="889.70" stroke="#0d0d0d" stroke-width="1.9" />
<text x="1489.25" y="907.90" font-family='"Liberation Sans", sans-serif' font-size="15.7" font-weight="bold" text-anchor="middle" fill="#111" >HF</text>
<line x1="1571.90" y1="885.50" x2="1571.90" y2="889.70" stroke="#0d0d0d" stroke-width="1.9" />
<text x="1571.90" y="907.90" font-family='"Liberation Sans", sans-serif' font-size="15.7" font-weight="bold" text-anchor="middle" fill="#111" >HF-NC</text>
<line x1="1654.65" y1="885.50" x2="1654.65" y2="889.70" stroke="#0d0d0d" stroke-width="1.9" />
<text x="1654.65" y="907.90" font-family='"Liberation Sans", sans-serif' font-size="15.7" font-weight="bold" text-anchor="middle" fill="#111" >HF-MD</text>
<path d="M1406.7 777.1L1406.7 796.6M1393.0 777.1L1420.4 777.1M1393.0 796.6L1420.4 796.6" stroke="#222" stroke-width="1.2" fill="none"/>
<path d="M1489.2 824.8L1489.2 837.3M1475.5 824.8L1503.0 824.8M1475.5 837.3L1503.0 837.3" stroke="#222" stroke-width="1.2" fill="none"/>
<path d="M1571.9 663.8L1571.9 776.3M1558.2 663.8L1585.6 663.8M1558.2 776.3L1585.6 776.3" stroke="#222" stroke-width="1.2" fill="none"/>
<path d="M1654.7 706.0L1654.7 792.8M1641.0 706.0L1668.4 706.0M1641.0 792.8L1668.4 792.8" stroke="#222" stroke-width="1.2" fill="none"/>
<circle cx="1406.7" cy="775.8" r="3.39" fill="#000"/>
<circle cx="1400.6" cy="793.3" r="3.39" fill="#000"/>
<circle cx="1412.3" cy="791.6" r="3.39" fill="#000"/>
<rect x="1479.9" y="824.7" width="6.4" height="6.4" fill="#000"/>
<rect x="1491.9" y="824.7" width="6.4" height="6.4" fill="#000"/>
<rect x="1485.8" y="835.1" width="6.4" height="6.4" fill="#000"/>
<path d="M1568.7 679.5L1575.3 679.5L1572.0 673.3Z" fill="#000"/>
<path d="M1568.7 703.9L1575.3 703.9L1572.0 697.7Z" fill="#000"/>
<path d="M1568.7 786.9L1575.3 786.9L1572.0 780.7Z" fill="#000"/>
<path d="M1651.5 696.1L1658.1 696.1L1654.8 702.3Z" fill="#000"/>
<path d="M1651.5 766.5L1658.1 766.5L1654.8 772.7Z" fill="#000"/>
<path d="M1651.5 775.9L1658.1 775.9L1654.8 782.1Z" fill="#000"/>
<path d="M1488.7 613.3L1655.1 613.3M1488.7 610.2L1488.7 616.4M1655.1 610.2L1655.1 616.4" stroke="#333" stroke-width="1.15" fill="none"/>
<text x="1571.5" y="601.1" font-family='"Liberation Mono", monospace' font-size="15.5" font-weight="bold" text-anchor="middle" fill="#111" stroke="#111" stroke-width="0.3">#</text>
<path d="M1488.7 645.3L1571.8 645.3M1488.7 642.2L1488.7 648.4M1571.8 642.2L1571.8 648.4" stroke="#333" stroke-width="1.15" fill="none"/>
<text x="1530.1" y="632.4" font-family='"Liberation Mono", monospace' font-size="15.5" font-weight="bold" text-anchor="middle" fill="#111" stroke="#111" stroke-width="0.3">#</text>
<path d="M1406.2 680.6L1488.7 680.6M1406.2 677.5L1406.2 683.7M1488.7 677.5L1488.7 683.7" stroke="#333" stroke-width="1.15" fill="none"/>
<text x="1439.5 1454.0" y="673.3" font-family='"Liberation Serif", serif' font-size="18.5" font-weight="bold" text-anchor="middle" fill="#111">**</text>
<text x="1530.10" y="571.10" font-family='"Liberation Sans", sans-serif' font-size="19.7" font-weight="bold" text-anchor="middle" fill="#000" stroke="#000" stroke-width="0.2">Acetic acid</text>
<text transform="translate(1305.9,746.4) rotate(-90)" font-family='"Liberation Sans", sans-serif' font-size="15.7" font-weight="bold" text-anchor="middle" fill="#111">µg/mg</text>
<rect x="79.70" y="1491.80" width="44.30" height="55.90" fill="#9fadb9" stroke="#5f7e95" stroke-width="1"/>
<rect x="148.20" y="1386.20" width="44.30" height="161.50" fill="#c0524d" stroke="#c44545" stroke-width="1"/>
<rect x="216.30" y="1426.20" width="44.30" height="121.50" fill="#f4b9ad" stroke="#f4b9ad" stroke-width="1"/>
<rect x="284.30" y="1449.50" width="44.30" height="98.20" fill="#c6e1e5" stroke="#c6e1e5" stroke-width="1"/>
<line x1="56.50" y1="1310.90" x2="56.50" y2="1548.58" stroke="#0d0d0d" stroke-width="1.75" />
<line x1="53.40" y1="1547.70" x2="352.50" y2="1547.70" stroke="#0d0d0d" stroke-width="1.75" />
<line x1="53.20" y1="1311.50" x2="56.50" y2="1311.50" stroke="#0d0d0d" stroke-width="1.75" />
<text x="27.2 32.3 40.2 46.8" y="1316.0" font-family='"Liberation Serif", serif' font-size="13.52" font-weight="bold" text-anchor="middle" fill="#111">0.04</text>
<line x1="53.20" y1="1370.40" x2="56.50" y2="1370.40" stroke="#0d0d0d" stroke-width="1.75" />
<text x="27.2 32.3 40.2 46.8" y="1374.9" font-family='"Liberation Serif", serif' font-size="13.52" font-weight="bold" text-anchor="middle" fill="#111">0.03</text>
<line x1="53.20" y1="1429.70" x2="56.50" y2="1429.70" stroke="#0d0d0d" stroke-width="1.75" />
<text x="27.2 32.3 40.2 46.8" y="1434.2" font-family='"Liberation Serif", serif' font-size="13.52" font-weight="bold" text-anchor="middle" fill="#111">0.02</text>
<line x1="53.20" y1="1488.70" x2="56.50" y2="1488.70" stroke="#0d0d0d" stroke-width="1.75" />
<text x="27.2 32.3 40.2 46.8" y="1493.2" font-family='"Liberation Serif", serif' font-size="13.52" font-weight="bold" text-anchor="middle" fill="#111">0.01</text>
<text x="27.2 32.3 40.2 46.8" y="1552.2" font-family='"Liberation Serif", serif' font-size="13.52" font-weight="bold" text-anchor="middle" fill="#111">0.00</text>
<line x1="101.85" y1="1547.70" x2="101.85" y2="1551.90" stroke="#0d0d0d" stroke-width="1.75" />
<text x="101.85" y="1565.60" font-family='"Liberation Sans", sans-serif' font-size="12.3" font-weight="bold" text-anchor="middle" fill="#111" letter-spacing="0.8">NC</text>
<line x1="170.35" y1="1547.70" x2="170.35" y2="1551.90" stroke="#0d0d0d" stroke-width="1.75" />
<text x="170.35" y="1565.60" font-family='"Liberation Sans", sans-serif' font-size="12.3" font-weight="bold" text-anchor="middle" fill="#111" letter-spacing="0.8">HF</text>
<line x1="238.45" y1="1547.70" x2="238.45" y2="1551.90" stroke="#0d0d0d" stroke-width="1.75" />
<text x="238.45" y="1565.60" font-family='"Liberation Sans", sans-serif' font-size="12.3" font-weight="bold" text-anchor="middle" fill="#111" letter-spacing="0.8">HF-NC</text>
<line x1="306.45" y1="1547.70" x2="306.45" y2="1551.90" stroke="#0d0d0d" stroke-width="1.75" />
<text x="306.45" y="1565.60" font-family='"Liberation Sans", sans-serif' font-size="12.3" font-weight="bold" text-anchor="middle" fill="#111" letter-spacing="0.8">HF-MD</text>
<path d="M101.8 1487.6L101.8 1495.2M90.6 1487.6L113.0 1487.6M90.6 1495.2L113.0 1495.2" stroke="#222" stroke-width="1.2" fill="none"/>
<path d="M170.3 1334.7L170.3 1436.4M159.2 1334.7L181.5 1334.7M159.2 1436.4L181.5 1436.4" stroke="#222" stroke-width="1.2" fill="none"/>
<path d="M238.5 1402.5L238.5 1448.2M227.3 1402.5L249.7 1402.5M227.3 1448.2L249.7 1448.2" stroke="#222" stroke-width="1.2" fill="none"/>
<path d="M306.5 1432.6L306.5 1465.7M295.3 1432.6L317.7 1432.6M295.3 1465.7L317.7 1465.7" stroke="#222" stroke-width="1.2" fill="none"/>
<circle cx="97.3" cy="1488.5" r="2.76" fill="#000"/>
<circle cx="106.9" cy="1490.5" r="2.76" fill="#000"/>
<circle cx="102.0" cy="1495.8" r="2.76" fill="#000"/>
<rect x="167.7" y="1326.0" width="5.2" height="5.2" fill="#000"/>
<rect x="167.7" y="1401.3" width="5.2" height="5.2" fill="#000"/>
<rect x="167.7" y="1422.9" width="5.2" height="5.2" fill="#000"/>
<path d="M235.8 1403.1L241.2 1403.1L238.5 1398.1Z" fill="#000"/>
<path d="M235.8 1433.0L241.2 1433.0L238.5 1428.0Z" fill="#000"/>
<path d="M235.8 1448.4L241.2 1448.4L238.5 1443.4Z" fill="#000"/>
<path d="M303.9 1427.7L309.3 1427.7L306.6 1432.7Z" fill="#000"/>
<path d="M299.2 1457.2L304.6 1457.2L301.9 1462.2Z" fill="#000"/>
<path d="M308.6 1455.4L314.0 1455.4L311.3 1460.4Z" fill="#000"/>
<path d="M104.0 1266.2L306.8 1266.2M104.0 1263.7L104.0 1268.7M306.8 1263.7L306.8 1268.7" stroke="#333" stroke-width="1.15" fill="none"/>
<text x="203.8" y="1259.7" font-family='"Liberation Serif", serif' font-size="16" font-weight="bold" text-anchor="middle" fill="#111">*</text>
<path d="M104.0 1289.6L238.3 1289.6M104.0 1287.1L104.0 1292.1M238.3 1287.1L238.3 1292.1" stroke="#333" stroke-width="1.15" fill="none"/>
<text x="164.5 176.1" y="1283.0" font-family='"Liberation Serif", serif' font-size="16" font-weight="bold" text-anchor="middle" fill="#111">**</text>
<path d="M103.0 1312.3L170.3 1312.3M103.0 1309.8L103.0 1314.8M170.3 1309.8L170.3 1314.8" stroke="#333" stroke-width="1.15" fill="none"/>
<text x="135.5" y="1306.2" font-family='"Liberation Serif", serif' font-size="16" font-weight="bold" text-anchor="middle" fill="#111">*</text>
<text x="203.60" y="1223.10" font-family='"Liberation Sans", sans-serif' font-size="16.1" font-weight="bold" text-anchor="middle" fill="#000" stroke="#000" stroke-width="0.2">Isobutyric acid</text>
<text transform="translate(12.8,1433.0) rotate(-90)" font-family='"Liberation Sans", sans-serif' font-size="13.3" font-weight="bold" text-anchor="middle" fill="#111">µg/mg</text>
<rect x="616.80" y="1505.70" width="44.40" height="42.00" fill="#9fadb9" stroke="#5f7e95" stroke-width="1"/>
<rect x="684.90" y="1378.90" width="44.30" height="168.80" fill="#c0524d" stroke="#c44545" stroke-width="1"/>
<rect x="753.00" y="1465.80" width="44.30" height="81.90" fill="#f4b9ad" stroke="#f4b9ad" stroke-width="1"/>
<rect x="821.00" y="1477.20" width="44.30" height="70.50" fill="#c6e1e5" stroke="#c6e1e5" stroke-width="1"/>
<line x1="593.60" y1="1310.70" x2="593.60" y2="1548.58" stroke="#0d0d0d" stroke-width="1.75" />
<line x1="590.30" y1="1547.70" x2="889.60" y2="1547.70" stroke="#0d0d0d" stroke-width="1.75" />
<line x1="590.30" y1="1311.30" x2="593.60" y2="1311.30" stroke="#0d0d0d" stroke-width="1.75" />
<text x="564.2 569.3 577.2 583.8" y="1315.8" font-family='"Liberation Serif", serif' font-size="13.52" font-weight="bold" text-anchor="middle" fill="#111">0.03</text>
<line x1="590.30" y1="1390.40" x2="593.60" y2="1390.40" stroke="#0d0d0d" stroke-width="1.75" />
<text x="564.2 569.3 577.2 583.8" y="1394.9" font-family='"Liberation Serif", serif' font-size="13.52" font-weight="bold" text-anchor="middle" fill="#111">0.02</text>
<line x1="590.30" y1="1469.20" x2="593.60" y2="1469.20" stroke="#0d0d0d" stroke-width="1.75" />
<text x="564.2 569.3 577.2 583.8" y="1473.7" font-family='"Liberation Serif", serif' font-size="13.52" font-weight="bold" text-anchor="middle" fill="#111">0.01</text>
<text x="564.2 569.3 577.2 583.8" y="1552.2" font-family='"Liberation Serif", serif' font-size="13.52" font-weight="bold" text-anchor="middle" fill="#111">0.00</text>
<line x1="639.00" y1="1547.70" x2="639.00" y2="1551.90" stroke="#0d0d0d" stroke-width="1.75" />
<text x="639.00" y="1565.60" font-family='"Liberation Sans", sans-serif' font-size="12.3" font-weight="bold" text-anchor="middle" fill="#111" letter-spacing="0.8">NC</text>
<line x1="707.05" y1="1547.70" x2="707.05" y2="1551.90" stroke="#0d0d0d" stroke-width="1.75" />
<text x="707.05" y="1565.60" font-family='"Liberation Sans", sans-serif' font-size="12.3" font-weight="bold" text-anchor="middle" fill="#111" letter-spacing="0.8">HF</text>
<line x1="775.15" y1="1547.70" x2="775.15" y2="1551.90" stroke="#0d0d0d" stroke-width="1.75" />
<text x="775.15" y="1565.60" font-family='"Liberation Sans", sans-serif' font-size="12.3" font-weight="bold" text-anchor="middle" fill="#111" letter-spacing="0.8">HF-NC</text>
<line x1="843.15" y1="1547.70" x2="843.15" y2="1551.90" stroke="#0d0d0d" stroke-width="1.75" />
<text x="843.15" y="1565.60" font-family='"Liberation Sans", sans-serif' font-size="12.3" font-weight="bold" text-anchor="middle" fill="#111" letter-spacing="0.8">HF-MD</text>
<path d="M639.0 1497.8L639.0 1512.9M627.8 1497.8L650.2 1497.8M627.8 1512.9L650.2 1512.9" stroke="#222" stroke-width="1.2" fill="none"/>
<path d="M707.0 1338.2L707.0 1418.4M695.8 1338.2L718.2 1338.2M695.8 1418.4L718.2 1418.4" stroke="#222" stroke-width="1.2" fill="none"/>
<path d="M775.1 1450.7L775.1 1480.2M763.9 1450.7L786.4 1450.7M763.9 1480.2L786.4 1480.2" stroke="#222" stroke-width="1.2" fill="none"/>
<path d="M843.1 1464.1L843.1 1488.1M831.9 1464.1L854.4 1464.1M831.9 1488.1L854.4 1488.1" stroke="#222" stroke-width="1.2" fill="none"/>
<circle cx="639.1" cy="1498.3" r="2.76" fill="#000"/>
<circle cx="639.1" cy="1504.1" r="2.76" fill="#000"/>
<circle cx="639.1" cy="1513.5" r="2.76" fill="#000"/>
<rect x="704.6" y="1330.1" width="5.2" height="5.2" fill="#000"/>
<rect x="704.6" y="1392.0" width="5.2" height="5.2" fill="#000"/>
<rect x="704.6" y="1405.4" width="5.2" height="5.2" fill="#000"/>
<path d="M772.7 1456.8L778.1 1456.8L775.4 1451.8Z" fill="#000"/>
<path d="M772.7 1461.4L778.1 1461.4L775.4 1456.4Z" fill="#000"/>
<path d="M772.7 1484.6L778.1 1484.6L775.4 1479.6Z" fill="#000"/>
<path d="M840.8 1459.3L846.2 1459.3L843.5 1464.3Z" fill="#000"/>
<path d="M845.5 1478.4L850.9 1478.4L848.2 1483.4Z" fill="#000"/>
<path d="M836.1 1483.1L841.5 1483.1L838.8 1488.1Z" fill="#000"/>
<path d="M706.8 1266.4L843.5 1266.4M706.8 1263.9L706.8 1268.9M843.5 1263.9L843.5 1268.9" stroke="#333" stroke-width="1.15" fill="none"/>
<text x="770.0 779.2" y="1256.0" font-family='"Liberation Mono", monospace' font-size="12.8" font-weight="bold" text-anchor="middle" fill="#111" stroke="#111" stroke-width="0.3">##</text>
<path d="M706.8 1290.2L775.4 1290.2M706.8 1287.7L706.8 1292.7M775.4 1287.7L775.4 1292.7" stroke="#333" stroke-width="1.15" fill="none"/>
<text x="735.9 745.1" y="1280.0" font-family='"Liberation Mono", monospace' font-size="12.8" font-weight="bold" text-anchor="middle" fill="#111" stroke="#111" stroke-width="0.3">##</text>
<path d="M639.1 1316.6L706.8 1316.6M639.1 1314.1L639.1 1319.1M706.8 1314.1L706.8 1319.1" stroke="#333" stroke-width="1.15" fill="none"/>
<text x="660.6 672.2 683.8" y="1310.7" font-family='"Liberation Serif", serif' font-size="16" font-weight="bold" text-anchor="middle" fill="#111">***</text>
<text x="740.30" y="1234.90" font-family='"Liberation Sans", sans-serif' font-size="16.1" font-weight="bold" text-anchor="middle" fill="#000" stroke="#000" stroke-width="0.2">Isovaleric acid</text>
<text transform="translate(550.5,1433.2) rotate(-90)" font-family='"Liberation Sans", sans-serif' font-size="13.3" font-weight="bold" text-anchor="middle" fill="#111">µg/mg</text>
<text x="835.70" y="963.30" font-family='"Liberation Serif", serif' font-size="36" font-weight="bold" text-anchor="middle" fill="#000" letter-spacing="0.5">(B)</text>
<text x="445.50" y="1627.50" font-family='"Liberation Serif", serif' font-size="36" font-weight="bold" text-anchor="middle" fill="#000" letter-spacing="0.5">(C)</text>
<line x1="1474.30" y1="1045.20" x2="1474.30" y2="1647.60" stroke="#d6d6d6" stroke-width="1.0" stroke-dasharray="4.4 2.7"/>
<line x1="1516.50" y1="1045.20" x2="1516.50" y2="1647.60" stroke="#777777" stroke-width="1.25" stroke-dasharray="4.4 2.7"/>
<line x1="1559.50" y1="1045.20" x2="1559.50" y2="1647.60" stroke="#777777" stroke-width="1.25" stroke-dasharray="4.4 2.7"/>
<line x1="1602.00" y1="1045.20" x2="1602.00" y2="1647.60" stroke="#ececec" stroke-width="1.0" stroke-dasharray="4.4 2.7"/>
<line x1="1437.90" y1="1067.90" x2="1654.50" y2="1067.90" stroke="#dcdcdc" stroke-width="1.0" stroke-dasharray="4.4 2.7"/>
<line x1="1437.90" y1="1107.50" x2="1654.50" y2="1107.50" stroke="#777777" stroke-width="1.25" stroke-dasharray="4.4 2.7"/>
<line x1="1437.90" y1="1147.52" x2="1654.50" y2="1147.52" stroke="#dcdcdc" stroke-width="1.0" stroke-dasharray="4.4 2.7"/>
<line x1="1437.90" y1="1187.33" x2="1654.50" y2="1187.33" stroke="#dcdcdc" stroke-width="1.0" stroke-dasharray="4.4 2.7"/>
<line x1="1437.90" y1="1227.50" x2="1654.50" y2="1227.50" stroke="#777777" stroke-width="1.25" stroke-dasharray="4.4 2.7"/>
<line x1="1437.90" y1="1266.95" x2="1654.50" y2="1266.95" stroke="#dcdcdc" stroke-width="1.0" stroke-dasharray="4.4 2.7"/>
<line x1="1437.90" y1="1306.76" x2="1654.50" y2="1306.76" stroke="#dcdcdc" stroke-width="1.0" stroke-dasharray="4.4 2.7"/>
<line x1="1437.90" y1="1346.50" x2="1654.50" y2="1346.50" stroke="#777777" stroke-width="1.25" stroke-dasharray="4.4 2.7"/>
<line x1="1437.90" y1="1386.38" x2="1654.50" y2="1386.38" stroke="#dcdcdc" stroke-width="1.0" stroke-dasharray="4.4 2.7"/>
<line x1="1437.90" y1="1426.19" x2="1654.50" y2="1426.19" stroke="#dcdcdc" stroke-width="1.0" stroke-dasharray="4.4 2.7"/>
<line x1="1437.90" y1="1466.50" x2="1654.50" y2="1466.50" stroke="#777777" stroke-width="1.25" stroke-dasharray="4.4 2.7"/>
<line x1="1437.90" y1="1505.81" x2="1654.50" y2="1505.81" stroke="#dcdcdc" stroke-width="1.0" stroke-dasharray="4.4 2.7"/>
<line x1="1437.90" y1="1545.62" x2="1654.50" y2="1545.62" stroke="#dcdcdc" stroke-width="1.0" stroke-dasharray="4.4 2.7"/>
<line x1="1437.90" y1="1585.50" x2="1654.50" y2="1585.50" stroke="#777777" stroke-width="1.25" stroke-dasharray="4.4 2.7"/>
<line x1="1437.90" y1="1625.24" x2="1654.50" y2="1625.24" stroke="#dcdcdc" stroke-width="1.0" stroke-dasharray="4.4 2.7"/>
<line x1="1436.90" y1="1044.20" x2="1655.50" y2="1044.20" stroke="#9a9a9a" stroke-width="1.1" />
<line x1="1436.90" y1="1043.70" x2="1436.90" y2="1647.60" stroke="#333" stroke-width="1.4" />
<line x1="1655.50" y1="1043.70" x2="1655.50" y2="1647.60" stroke="#333" stroke-width="1.4" />
<circle cx="1522.3" cy="1067.9" r="21.3" fill="#ed1f26"/>
<circle cx="1526.4" cy="1107.7" r="16.8" fill="#ed1f26"/>
<circle cx="1460.8" cy="1147.5" r="14.0" fill="#ec2029"/>
<circle cx="1645.5" cy="1187.3" r="9.8" fill="#ea2532"/>
<circle cx="1509.1" cy="1227.1" r="9.7" fill="#e0324f"/>
<circle cx="1502.5" cy="1267.0" r="9.7" fill="#de3454"/>
<circle cx="1466.8" cy="1306.8" r="9.7" fill="#cd4483"/>
<circle cx="1458.8" cy="1346.6" r="9.7" fill="#b64eae"/>
<circle cx="1458.2" cy="1386.4" r="9.7" fill="#b150b4"/>
<circle cx="1456.6" cy="1426.2" r="9.7" fill="#b04fa8"/>
<circle cx="1451.8" cy="1466.0" r="9.7" fill="#9658cc"/>
<circle cx="1450.7" cy="1505.8" r="9.7" fill="#8a5cd2"/>
<circle cx="1449.3" cy="1545.6" r="9.7" fill="#7c60dc"/>
<circle cx="1446.4" cy="1585.4" r="9.7" fill="#2a66f8"/>
<circle cx="1446.2" cy="1625.2" r="9.7" fill="#0066ff"/>
<line x1="1430.30" y1="1067.90" x2="1436.90" y2="1067.90" stroke="#222" stroke-width="1.4" />
<text transform="translate(1424.90,1074.30) scale(1.0660,1)" font-family='"Liberation Sans", sans-serif' font-size="15.8" font-weight="bold" text-anchor="end" fill="#0a0a0a" letter-spacing="0.37" stroke="#0a0a0a" stroke-width="0.2">Protein digestion and absorption</text>
<line x1="1430.30" y1="1107.71" x2="1436.90" y2="1107.71" stroke="#222" stroke-width="1.4" />
<text transform="translate(1424.90,1114.11) scale(1.0660,1)" font-family='"Liberation Sans", sans-serif' font-size="15.8" font-weight="bold" text-anchor="end" fill="#0a0a0a" letter-spacing="0.37" stroke="#0a0a0a" stroke-width="0.2">Carbohydrate digestion and absorption</text>
<line x1="1430.30" y1="1147.52" x2="1436.90" y2="1147.52" stroke="#222" stroke-width="1.4" />
<text transform="translate(1424.90,1153.92) scale(1.0660,1)" font-family='"Liberation Sans", sans-serif' font-size="15.8" font-weight="bold" text-anchor="end" fill="#0a0a0a" letter-spacing="0.37" stroke="#0a0a0a" stroke-width="0.2">Fatty acid biosynthesis</text>
<line x1="1430.30" y1="1187.33" x2="1436.90" y2="1187.33" stroke="#222" stroke-width="1.4" />
<text transform="translate(1424.90,1193.73) scale(1.0660,1)" font-family='"Liberation Sans", sans-serif' font-size="15.8" font-weight="bold" text-anchor="end" fill="#0a0a0a" letter-spacing="0.37" stroke="#0a0a0a" stroke-width="0.2">Glycosaminoglycan biosynthesis − heparan sulfate / heparin</text>
<line x1="1430.30" y1="1227.14" x2="1436.90" y2="1227.14" stroke="#222" stroke-width="1.4" />
<text transform="translate(1424.90,1233.54) scale(1.0660,1)" font-family='"Liberation Sans", sans-serif' font-size="15.8" font-weight="bold" text-anchor="end" fill="#0a0a0a" letter-spacing="0.37" stroke="#0a0a0a" stroke-width="0.2">Alcoholic liver disease</text>
<line x1="1430.30" y1="1266.95" x2="1436.90" y2="1266.95" stroke="#222" stroke-width="1.4" />
<text transform="translate(1424.90,1273.35) scale(1.0660,1)" font-family='"Liberation Sans", sans-serif' font-size="15.8" font-weight="bold" text-anchor="end" fill="#0a0a0a" letter-spacing="0.37" stroke="#0a0a0a" stroke-width="0.2">Cholinergic synapse</text>
<line x1="1430.30" y1="1306.76" x2="1436.90" y2="1306.76" stroke="#222" stroke-width="1.4" />
<text transform="translate(1424.90,1313.16) scale(1.0660,1)" font-family='"Liberation Sans", sans-serif' font-size="15.8" font-weight="bold" text-anchor="end" fill="#0a0a0a" letter-spacing="0.37" stroke="#0a0a0a" stroke-width="0.2">Taurine and hypotaurine metabolism</text>
<line x1="1430.30" y1="1346.57" x2="1436.90" y2="1346.57" stroke="#222" stroke-width="1.4" />
<text transform="translate(1424.90,1352.97) scale(1.0660,1)" font-family='"Liberation Sans", sans-serif' font-size="15.8" font-weight="bold" text-anchor="end" fill="#0a0a0a" letter-spacing="0.37" stroke="#0a0a0a" stroke-width="0.2">Glycolysis / Gluconeogenesis</text>
<line x1="1430.30" y1="1386.38" x2="1436.90" y2="1386.38" stroke="#222" stroke-width="1.4" />
<text transform="translate(1424.90,1392.78) scale(1.0660,1)" font-family='"Liberation Sans", sans-serif' font-size="15.8" font-weight="bold" text-anchor="end" fill="#0a0a0a" letter-spacing="0.37" stroke="#0a0a0a" stroke-width="0.2">Pyruvate metabolism</text>
<line x1="1430.30" y1="1426.19" x2="1436.90" y2="1426.19" stroke="#222" stroke-width="1.4" />
<text transform="translate(1424.90,1432.59) scale(1.0660,1)" font-family='"Liberation Sans", sans-serif' font-size="15.8" font-weight="bold" text-anchor="end" fill="#0a0a0a" letter-spacing="0.37" stroke="#0a0a0a" stroke-width="0.2">Sulfur metabolism</text>
<line x1="1430.30" y1="1466.00" x2="1436.90" y2="1466.00" stroke="#222" stroke-width="1.4" />
<text transform="translate(1424.90,1472.40) scale(1.0660,1)" font-family='"Liberation Sans", sans-serif' font-size="15.8" font-weight="bold" text-anchor="end" fill="#0a0a0a" letter-spacing="0.37" stroke="#0a0a0a" stroke-width="0.2">Propanoate metabolism</text>
<line x1="1430.30" y1="1505.81" x2="1436.90" y2="1505.81" stroke="#222" stroke-width="1.4" />
<text transform="translate(1424.90,1512.21) scale(1.0660,1)" font-family='"Liberation Sans", sans-serif' font-size="15.8" font-weight="bold" text-anchor="end" fill="#0a0a0a" letter-spacing="0.37" stroke="#0a0a0a" stroke-width="0.2">Lipoic acid metabolism</text>
<line x1="1430.30" y1="1545.62" x2="1436.90" y2="1545.62" stroke="#222" stroke-width="1.4" />
<text transform="translate(1424.90,1552.02) scale(1.0660,1)" font-family='"Liberation Sans", sans-serif' font-size="15.8" font-weight="bold" text-anchor="end" fill="#0a0a0a" letter-spacing="0.37" stroke="#0a0a0a" stroke-width="0.2">Butanoate metabolism</text>
<line x1="1430.30" y1="1585.43" x2="1436.90" y2="1585.43" stroke="#222" stroke-width="1.4" />
<text transform="translate(1424.90,1591.83) scale(1.0660,1)" font-family='"Liberation Sans", sans-serif' font-size="15.8" font-weight="bold" text-anchor="end" fill="#0a0a0a" letter-spacing="0.37" stroke="#0a0a0a" stroke-width="0.2">Nicotinate and nicotinamide metabolism</text>
<line x1="1430.30" y1="1625.24" x2="1436.90" y2="1625.24" stroke="#222" stroke-width="1.4" />
<text transform="translate(1424.90,1631.64) scale(1.0660,1)" font-family='"Liberation Sans", sans-serif' font-size="15.8" font-weight="bold" text-anchor="end" fill="#0a0a0a" letter-spacing="0.37" stroke="#0a0a0a" stroke-width="0.2">Phosphonate and phosphinate metabolism</text>
<line x1="1474.30" y1="1649.40" x2="1474.30" y2="1654.60" stroke="#222" stroke-width="1.4" />
<text transform="translate(1474.30,1671.60) scale(1.0700,1)" font-family='"Liberation Sans", sans-serif' font-size="16.6" font-weight="bold" text-anchor="middle" fill="#111" >0.05</text>
<line x1="1516.80" y1="1649.40" x2="1516.80" y2="1654.60" stroke="#222" stroke-width="1.4" />
<text transform="translate(1516.80,1671.60) scale(1.0700,1)" font-family='"Liberation Sans", sans-serif' font-size="16.6" font-weight="bold" text-anchor="middle" fill="#111" >0.10</text>
<line x1="1559.40" y1="1649.40" x2="1559.40" y2="1654.60" stroke="#222" stroke-width="1.4" />
<text transform="translate(1559.40,1671.60) scale(1.0700,1)" font-family='"Liberation Sans", sans-serif' font-size="16.6" font-weight="bold" text-anchor="middle" fill="#111" >0.15</text>
<line x1="1602.00" y1="1649.40" x2="1602.00" y2="1654.60" stroke="#222" stroke-width="1.4" />
<text transform="translate(1602.00,1671.60) scale(1.0700,1)" font-family='"Liberation Sans", sans-serif' font-size="16.6" font-weight="bold" text-anchor="middle" fill="#111" >0.20</text>
<line x1="1645.00" y1="1649.40" x2="1645.00" y2="1654.60" stroke="#222" stroke-width="1.4" />
<text transform="translate(1645.00,1671.60) scale(1.0700,1)" font-family='"Liberation Sans", sans-serif' font-size="16.6" font-weight="bold" text-anchor="middle" fill="#111" >0.25</text>
<text x="1546.10" y="1696.50" font-family='"Liberation Sans", sans-serif' font-size="19.8" font-weight="bold" text-anchor="middle" fill="#111" >Rich factor</text>
<text transform="translate(908.8,1347.0) rotate(-90)" font-family='"Liberation Sans", sans-serif' font-size="19.5" font-weight="bold" text-anchor="middle" fill="#111">KEGG Pathway</text>
<text transform="translate(1691.50,1167.70) scale(1.0400,1)" font-family='"Liberation Sans", sans-serif' font-size="19.0" font-weight="normal" text-anchor="start" fill="#111" stroke="#111" stroke-width="0.3">p_value</text>
<defs><linearGradient id="pg" x1="0" y1="0" x2="0" y2="1"><stop offset="0" stop-color="#2f6bff"/><stop offset="0.3" stop-color="#8a5cd2"/><stop offset="0.6" stop-color="#c8488c"/><stop offset="1" stop-color="#ed1f26"/></linearGradient></defs>
<rect x="1691.60" y="1182.70" width="13.20" height="67.60" fill="url(#pg)"/>
<text transform="translate(1717.00,1192.10) scale(1.0200,1)" font-family='"Liberation Sans", sans-serif' font-size="17.2" font-weight="normal" text-anchor="start" fill="#111" stroke="#111" stroke-width="0.3">0.08</text>
<text transform="translate(1717.00,1208.30) scale(1.0200,1)" font-family='"Liberation Sans", sans-serif' font-size="17.2" font-weight="normal" text-anchor="start" fill="#111" stroke="#111" stroke-width="0.3">0.06</text>
<text transform="translate(1717.00,1224.60) scale(1.0200,1)" font-family='"Liberation Sans", sans-serif' font-size="17.2" font-weight="normal" text-anchor="start" fill="#111" stroke="#111" stroke-width="0.3">0.04</text>
<text transform="translate(1717.00,1240.80) scale(1.0200,1)" font-family='"Liberation Sans", sans-serif' font-size="17.2" font-weight="normal" text-anchor="start" fill="#111" stroke="#111" stroke-width="0.3">0.02</text>
<line x1="1691.60" y1="1202.20" x2="1694.30" y2="1202.20" stroke="#fff" stroke-width="1.1" opacity="0.75"/>
<line x1="1702.10" y1="1202.20" x2="1704.80" y2="1202.20" stroke="#fff" stroke-width="1.1" opacity="0.75"/>
<line x1="1691.60" y1="1218.30" x2="1694.30" y2="1218.30" stroke="#fff" stroke-width="1.1" opacity="0.15"/>
<line x1="1702.10" y1="1218.30" x2="1704.80" y2="1218.30" stroke="#fff" stroke-width="1.1" opacity="0.15"/>
<line x1="1691.60" y1="1234.40" x2="1694.30" y2="1234.40" stroke="#fff" stroke-width="1.1" opacity="0.75"/>
<line x1="1702.10" y1="1234.40" x2="1704.80" y2="1234.40" stroke="#fff" stroke-width="1.1" opacity="0.75"/>
<text transform="translate(1691.50,1315.20) scale(1.0000,1)" font-family='"Liberation Sans", sans-serif' font-size="19.9" font-weight="normal" text-anchor="start" fill="#111" stroke="#111" stroke-width="0.3">Count</text>
<circle cx="1719.6" cy="1341.7" r="9.7" fill="#000"/>
<text transform="translate(1760.60,1348.00) scale(1.0000,1)" font-family='"Liberation Sans", sans-serif' font-size="17.3" font-weight="normal" text-anchor="start" fill="#111" stroke="#111" stroke-width="0.3">1</text>
<circle cx="1719.6" cy="1372.4" r="13.5" fill="#000"/>
<text transform="translate(1760.60,1378.70) scale(1.0000,1)" font-family='"Liberation Sans", sans-serif' font-size="17.3" font-weight="normal" text-anchor="start" fill="#111" stroke="#111" stroke-width="0.3">2</text>
<circle cx="1719.6" cy="1412.6" r="16.9" fill="#000"/>
<text transform="translate(1760.60,1418.90) scale(1.0000,1)" font-family='"Liberation Sans", sans-serif' font-size="17.3" font-weight="normal" text-anchor="start" fill="#111" stroke="#111" stroke-width="0.3">3</text>
<circle cx="1719.6" cy="1460" r="19.7" fill="#000"/>
<text transform="translate(1760.60,1466.30) scale(1.0000,1)" font-family='"Liberation Sans", sans-serif' font-size="17.3" font-weight="normal" text-anchor="start" fill="#111" stroke="#111" stroke-width="0.3">4</text>
<circle cx="1719.6" cy="1513.3" r="21.4" fill="#000"/>
<text transform="translate(1760.60,1519.60) scale(1.0000,1)" font-family='"Liberation Sans", sans-serif' font-size="17.3" font-weight="normal" text-anchor="start" fill="#111" stroke="#111" stroke-width="0.3">5</text>
<text x="1338.00" y="1765.00" font-family='"Liberation Serif", serif' font-size="36" font-weight="bold" text-anchor="middle" fill="#000" letter-spacing="0.5">(D)</text>
</svg>
</body>
</html>
